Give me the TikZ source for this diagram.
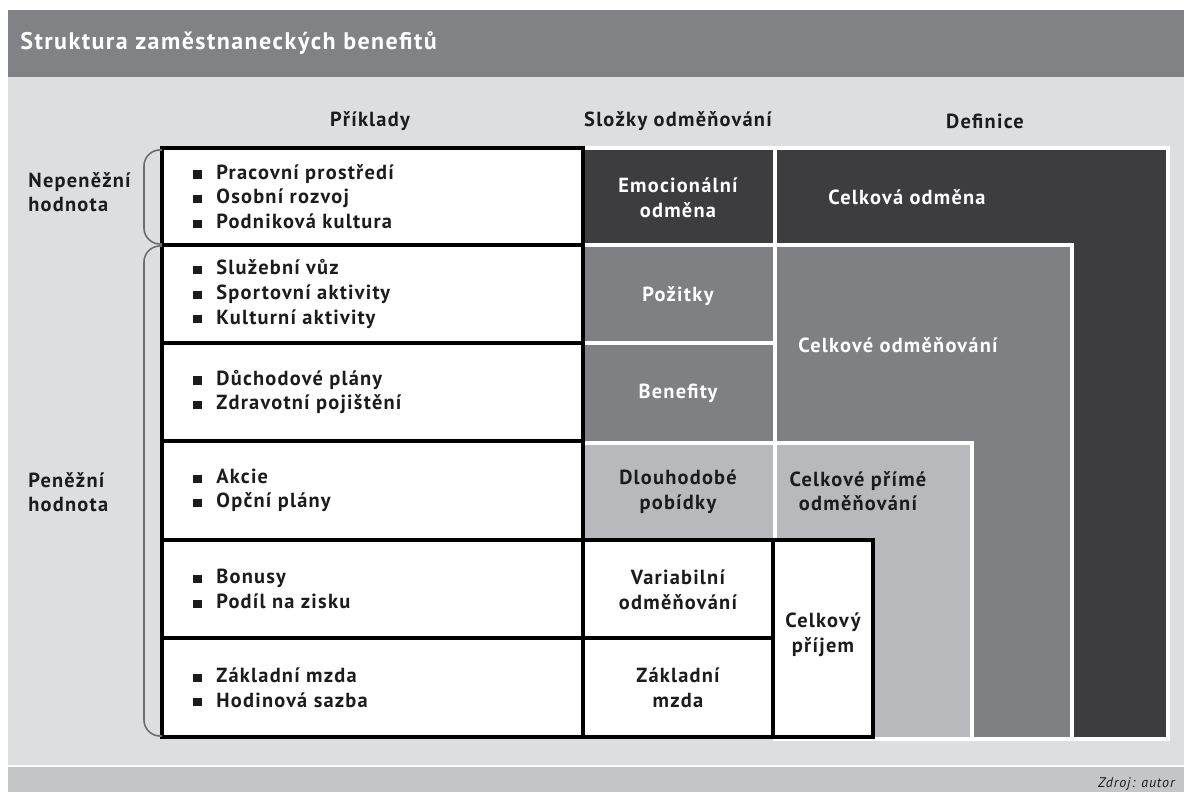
\documentclass[tikz,border=0pt]{standalone}
\usepackage{fontspec}
\setmainfont{PT Sans}[LetterSpace=6]
\usepackage{tikz}
\definecolor{bfdark}{RGB}{61, 61, 64}
\definecolor{bfmid}{RGB}{127, 128, 132}
\definecolor{bflight}{RGB}{184, 185, 188}
\definecolor{bfback}{RGB}{221, 222, 224}
\definecolor{bfbar}{RGB}{129, 130, 134}
\definecolor{bffoot}{RGB}{196, 197, 199}
\definecolor{bfink}{RGB}{28, 28, 30}
\newcommand{\bfsq}{\rule[0.3pt]{4.1pt}{4.1pt}\hspace{7.4pt}}

\begin{document}
\begin{tikzpicture}[x=0.5pt, y=-0.5pt,
  every node/.style={font=\bfseries\fontsize{10.2}{12.3}\selectfont, text=bfink, inner sep=0pt},
  outlined/.style={draw=white, line width=1.6pt},
  ruled/.style={draw=black, line width=1.7pt, fill=white},
  ondark/.style={text=white, align=center},
  bfbrace/.style={draw=gray!85!black, line width=0.8pt, rounded corners=8pt}]

  \useasboundingbox (0,0) rectangle (1184,792);
  \fill[white] (0,0) rectangle (1184,792);

  % --- title bar, background and footer ---
  \fill[bfbar] (8,10) rectangle (1184,77);
  \fill[bfback] (8,77) rectangle (1184,765);
  \fill[bffoot] (8,767) rectangle (1184,792);
  \node[anchor=west, text=white, font=\bfseries\fontsize{12}{14}\selectfont] (title)
    at (20,43) {Struktura zaměstnaneckých benefitů};

  % --- column headers ---
  \node (hdr-ex)   at (370,121) {Příklady};
  \node (hdr-comp) at (678,121) {Složky odměňování};
  \node (hdr-def)  at (985,121) {Definice};

  % --- nested definition blocks ---
  \filldraw[outlined, fill=bfdark]  (775,148) rectangle (1168,739);
  \filldraw[outlined, fill=bfmid]   (775,245) rectangle (1072,739);
  \filldraw[outlined, fill=bflight] (775,443) rectangle (972,739);

  % --- shaded components ---
  \filldraw[outlined, fill=bfdark]  (583,148) rectangle (775,245);
  \filldraw[outlined, fill=bfmid]   (583,245) rectangle (775,343);
  \filldraw[outlined, fill=bfmid]   (583,343) rectangle (775,443);
  \filldraw[outlined, fill=bflight] (583,443) rectangle (775,540);

  % --- example rows ---
  \foreach \n/\ya/\yb/\items in {
    1/148/245/{\bfsq Pracovní prostředí\\\bfsq Osobní rozvoj\\\bfsq Podniková kultura},
    2/245/343/{\bfsq Služební vůz\\\bfsq Sportovní aktivity\\\bfsq Kulturní aktivity},
    3/343/441/{\bfsq Důchodové plány\\\bfsq Zdravotní pojištění},
    4/441/540/{\bfsq Akcie\\\bfsq Opční plány},
    5/540/638/{\bfsq Bonusy\\\bfsq Podíl na zisku},
    6/638/737/{\bfsq Základní mzda\\\bfsq Hodinová sazba}}
  {
    \draw[ruled] (162,\ya) rectangle (583,\yb);
    \node[anchor=west, align=left] (ex-\n) at (193,{(\ya+\yb)/2}) {\items};
  }

  % --- cash components ---
  \draw[ruled] (583,540) rectangle (773,638);
  \draw[ruled] (583,638) rectangle (773,737);
  \draw[ruled] (773,540) rectangle (873,737);

  % --- braces ---
  \draw[bfbrace] (162,150) -- (144,150) -- (144,244) -- (162,244);
  \draw[bfbrace] (162,246) -- (144,246) -- (144,736) -- (162,736);
  \node[anchor=west, align=left] (grp-non) at (28,192) {Nepeněžní\\hodnota};
  \node[anchor=west, align=left] (grp-mon) at (28,492) {Peněžní\\hodnota};

  % --- component labels ---
  \node[ondark] (comp-emo)  at (678,198) {Emocionální\\odměna};
  \node[ondark] (comp-perk) at (678,296) {Požitky};
  \node[ondark] (comp-ben)  at (678,393) {Benefity};
  \node[align=center] (comp-lti)  at (678,492) {Dlouhodobé\\pobídky};
  \node[align=center] (comp-var)  at (678,590) {Variabilní\\odměňování};
  \node[align=center] (comp-base) at (678,688) {Základní\\mzda};

  % --- definition labels ---
  \node[ondark] (def-total)  at (907,197) {Celková odměna};
  \node[ondark] (def-comp)   at (898,345) {Celkové odměňování};
  \node[align=center] (def-direct) at (858,491) {Celkové přímé\\odměňování};
  \node[align=center] (def-cash)   at (823,635) {Celkový\\příjem};

  \node[anchor=east, font=\itshape\fontsize{7}{8}\selectfont] (source)
    at (1175,784) {Zdroj: autor};

\end{tikzpicture}
\end{document}
